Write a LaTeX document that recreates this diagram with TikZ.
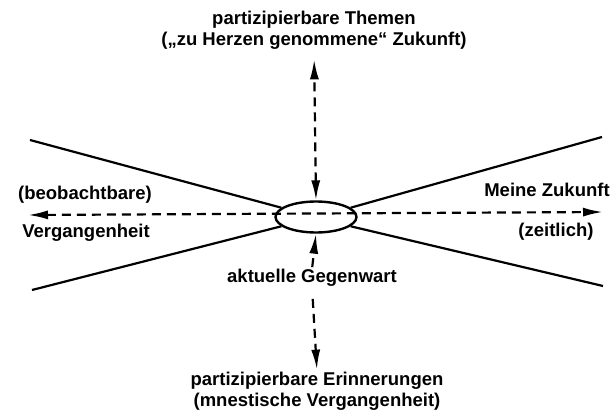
\documentclass[tikz,border=0pt]{standalone}
\usepackage{fontspec}
\setmainfont{Liberation Sans}
\usetikzlibrary{arrows.meta, shapes.geometric}

\begin{document}
\begin{tikzpicture}[x=1pt,y=-1pt,
        spitze/.tip={Latex[length=20pt,width=9pt]},
        pfeil/.style={line width=2.2pt, dash pattern=on 9pt off 6pt, -spitze},
        beide/.style={pfeil, spitze-spitze},
        strahl/.style={line width=2.2pt},
        txt/.style={font=\bfseries\fontsize{18.5}{21}\selectfont, align=center, inner sep=0pt}]
        \useasboundingbox (0,0) rectangle (613,417);
        \node[draw, ellipse, line width=2.4pt, minimum width=81pt, minimum height=31pt] (gw) at (316,217) {};
        \node[txt] (themen) at (314,30) {partizipierbare Themen\\(„zu Herzen genommene“ Zukunft)};
        \node[txt] (geg) at (312,278) {aktuelle Gegenwart};
        \node[txt] (erinn) at (317,391) {partizipierbare Erinnerungen\\(mnestische Vergangenheit)};
        \node[txt] (beob) at (85,195) {(beobachtbare)};
        \node[txt] (verg) at (86,233) {Vergangenheit};
        \node[txt] (meine) at (547,190) {Meine Zukunft};
        \node[txt] (zeit) at (556,232) {(zeitlich)};
        \coordinate (links) at (28,215);
        \coordinate (rechts) at (603,212);
        \coordinate (ol) at (30,140);
        \coordinate (ul) at (32,290);
        \coordinate (or) at (602,137);
        \coordinate (ur) at (603,286);
        \foreach \p/\w in {ol/165, ul/195, or/15, ur/345}
            \draw[strahl] (\p) -- (gw.\w);
        \draw[beide] (links) -- (rechts);
        \draw[beide, shorten >=10pt] (gw.north) -- (themen.south);
        \draw[pfeil, shorten <=2pt] (geg.north) -- (gw.south);
        \draw[pfeil, shorten <=12pt, shorten >=2pt] (geg.south) -- (erinn.north);
\end{tikzpicture}
\end{document}
